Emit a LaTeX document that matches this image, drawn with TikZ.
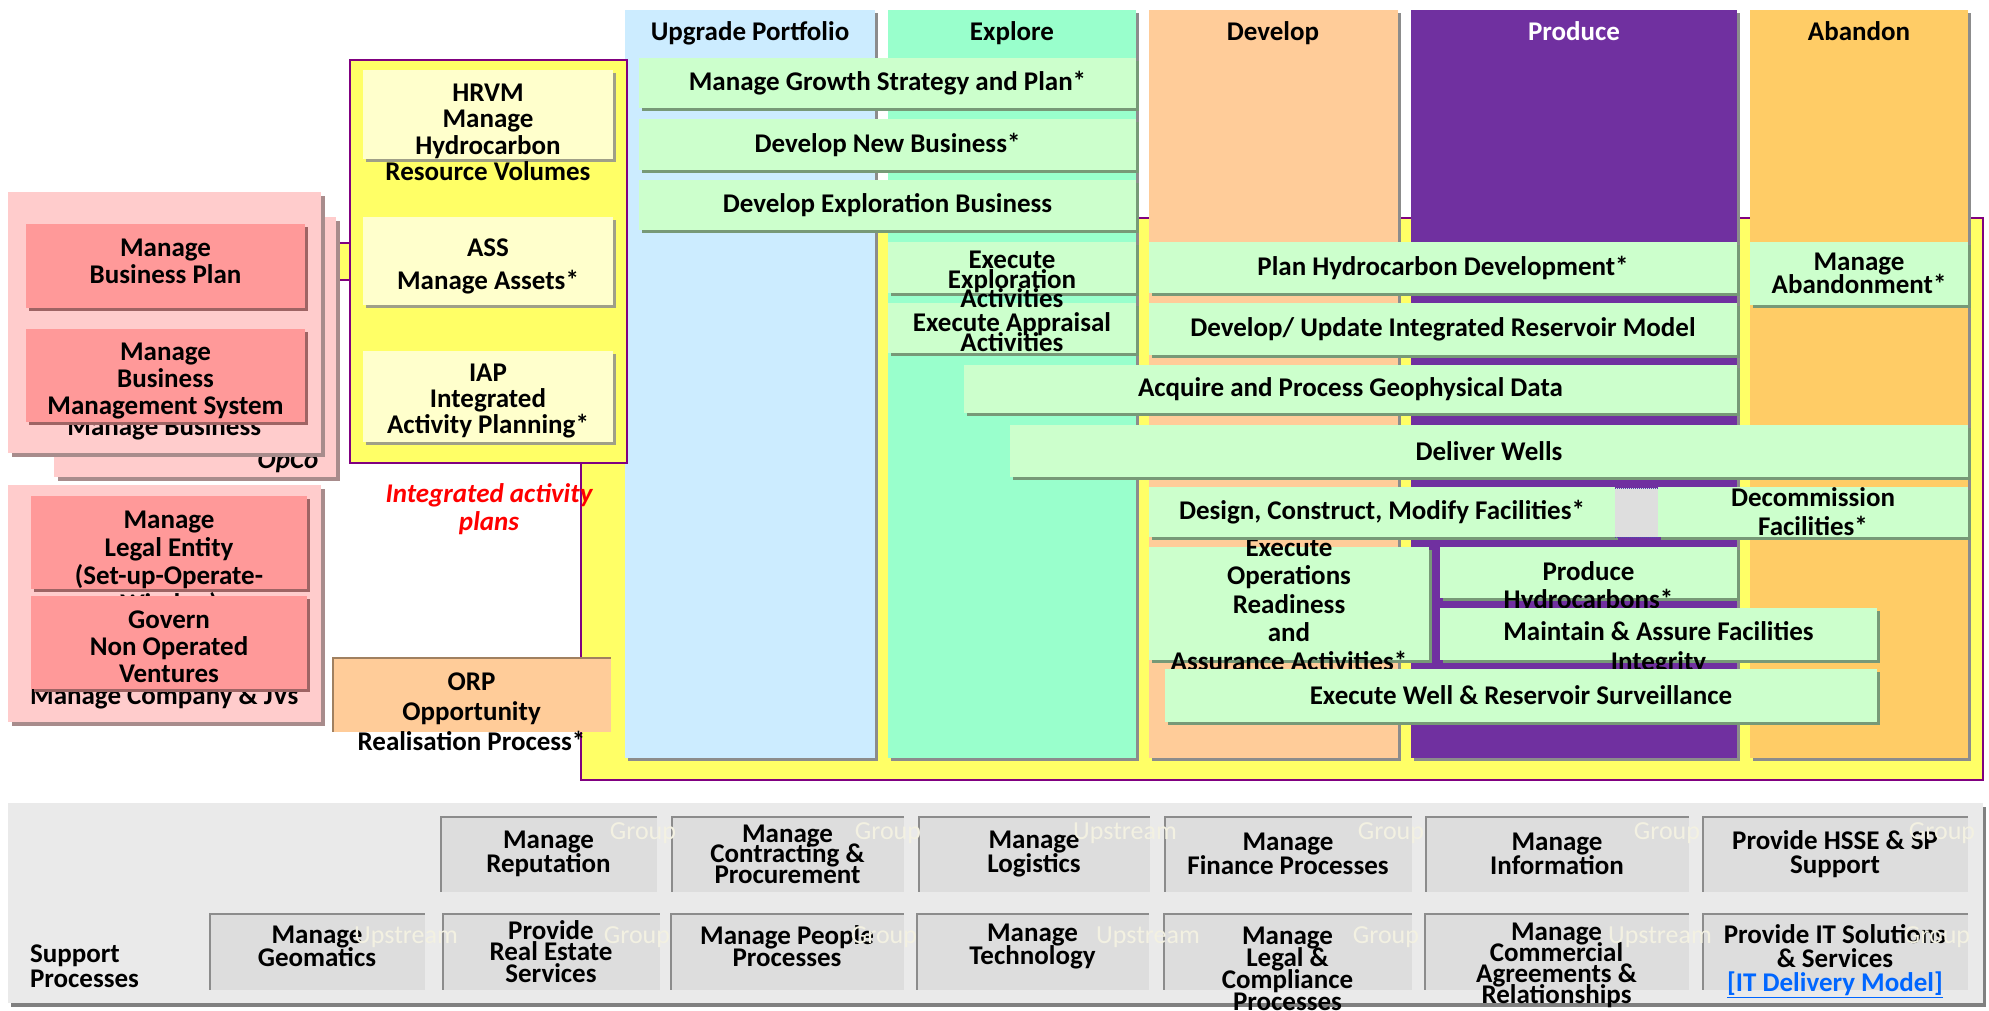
\documentclass[tikz,border=0pt]{standalone}
\usepackage{fontspec}
\setmainfont{Carlito}
\usetikzlibrary{shadows}
\lineskiplimit=-100pt

\definecolor{bla}{HTML}{CCECFF}
\definecolor{mint}{HTML}{99FFCC}
\definecolor{fersken}{HTML}{FFCC99}
\definecolor{lilla}{HTML}{7030A0}
\definecolor{oransje}{HTML}{FFCC66}
\definecolor{gul}{HTML}{FFFF66}
\definecolor{kantlilla}{HTML}{800080}
\definecolor{lysgul}{HTML}{FFFFCC}
\definecolor{rosa}{HTML}{FFCCCC}
\definecolor{rod}{HTML}{FF9999}
\definecolor{gronn}{HTML}{CCFFCC}
\definecolor{gronnskygge}{HTML}{779977}
\definecolor{rodskygge}{HTML}{9E6464}
\definecolor{rosaskygge}{HTML}{A88C8C}
\definecolor{gulskygge}{HTML}{A0A088}
\definecolor{brun}{HTML}{A08060}
\definecolor{panel}{HTML}{EAEAEA}
\definecolor{stotte}{HTML}{DDDDDD}
\definecolor{lenke}{HTML}{0066FF}
\definecolor{vann}{HTML}{F3F1E2}

\begin{document}
\begin{tikzpicture}[
  x=1pt, y=-1pt,
  every node/.style={inner sep=0pt, outer sep=0pt}
]
\tikzstyle{tekst}=[align=center, font=\bfseries\fontsize{27}{27}\selectfont]
\tikzstyle{boks}=[tekst, anchor=north west]
\tikzstyle{fase}=[boks, drop shadow={shadow xshift=3pt, shadow yshift=-3pt, opacity=1, fill=black!45}]
\tikzstyle{flate}=[boks, fill=gul, draw=kantlilla, line width=2pt]
\tikzstyle{gronnboks}=[boks, fill=gronn, drop shadow={shadow xshift=3pt, shadow yshift=-3pt, opacity=1, fill=gronnskygge}]
\tikzstyle{gulboks}=[boks, fill=lysgul, drop shadow={shadow xshift=3pt, shadow yshift=-3pt, opacity=1, fill=gulskygge}]
\tikzstyle{rosaboks}=[boks, fill=rosa, drop shadow={shadow xshift=4pt, shadow yshift=-4pt, opacity=1, fill=rosaskygge}]
\tikzstyle{rodboks}=[boks, fill=rod, drop shadow={shadow xshift=3pt, shadow yshift=-3pt, opacity=1, fill=rodskygge}]
\tikzstyle{orpboks}=[boks, fill=fersken, path picture={\draw[brun, line width=4pt] (path picture bounding box.south west) -- (path picture bounding box.north west) -- (path picture bounding box.north east);}]
\tikzstyle{stotteboks}=[boks, fill=stotte, minimum height=76pt, font=\bfseries\fontsize{27}{24}\selectfont, path picture={\draw[black!45, line width=4pt] (path picture bounding box.south west) -- (path picture bounding box.north west) -- (path picture bounding box.north east);}]
\tikzstyle{vannmerke}=[text=vann, font=\fontsize{26}{27}\selectfont]

\path[use as bounding box, fill=white] (0,0) rectangle (1989,1010);

\node[flate, minimum width=1402pt, minimum height=562pt] (omrade) at (581,218) {};
\coordinate (k1) at (330,261.5);
\coordinate (k2) at (354,261.5);
\draw[kantlilla, line width=2pt, double=gul, double distance=35pt] (k1) -- (k2);

\node[fase, fill=bla, minimum width=250pt, minimum height=748pt] (upg) at (625,10) {};
\node[fase, fill=mint, minimum width=248pt, minimum height=748pt] (expl) at (888,10) {};
\node[fase, fill=fersken, minimum width=249pt, minimum height=748pt] (dev) at (1149,10) {};
\node[fase, fill=lilla, minimum width=326pt, minimum height=748pt] (prod) at (1411,10) {};
\node[fase, fill=oransje, minimum width=218pt, minimum height=748pt] (aban) at (1750,10) {};
\node[tekst, anchor=base] (hupg) at (750,40) {Upgrade Portfolio};
\node[tekst, anchor=base] (hexpl) at (1012,40) {Explore};
\node[tekst, anchor=base] (hdev) at (1273,40) {Develop};
\node[tekst, anchor=base, text=white] (hprod) at (1574,40) {Produce};
\node[tekst, anchor=base] (haban) at (1859,40) {Abandon};

\node[flate, minimum width=277pt, minimum height=403pt] (iapflate) at (350,60) {};
\node[gulboks, minimum width=250pt, minimum height=89pt,
  label={[tekst, font=\bfseries\fontsize{27}{26.5}\selectfont, yshift=-18pt]center:HRVM\\Manage\\Hydrocarbon\\Resource Volumes}] (hrvm) at (363,70) {};
\node[gulboks, minimum width=250pt, minimum height=88pt,
  label={[tekst, font=\bfseries\fontsize{27}{33}\selectfont, yshift=-5pt]center:ASS\\Manage Assets*}] (ass) at (363,217) {};
\node[gulboks, minimum width=250pt, minimum height=91pt,
  label={[tekst, font=\bfseries\fontsize{27}{26}\selectfont, yshift=-5pt]center:IAP\\Integrated\\Activity Planning*}] (iap) at (363,351) {};

\node[rosaboks, minimum width=282pt, minimum height=260pt,
  label={[tekst, font=\bfseries\itshape\fontsize{27}{27}\selectfont, xshift=93pt, yshift=-115pt]center:OpCo}] (opco) at (54,217) {};
\node[rosaboks, minimum width=313.5pt, minimum height=261pt,
  label={[tekst, yshift=-105.5pt]center:Manage Business}] (mbytre) at (7.5,192) {};
\node[rodboks, minimum width=279pt, minimum height=84pt,
  label={[tekst, yshift=5pt]center:Manage\\Business Plan}] (mbp) at (26,224) {};
\node[rodboks, minimum width=279pt, minimum height=93pt,
  label={[tekst, yshift=-6pt]center:Manage\\Business\\Management System}] (mbms) at (26,329) {};

\node[rosaboks, minimum width=313.5pt, minimum height=237pt,
  label={[tekst, yshift=-93.5pt]center:Manage Company \& JVs}] (mcytre) at (7.5,485) {};
\node[rodboks, minimum width=276pt, minimum height=93pt,
  label={[tekst, font=\bfseries\fontsize{27}{28}\selectfont, yshift=-21pt]center:Manage\\Legal Entity\\(Set-up-Operate-\\Windup)}] (mle) at (31,496) {};
\node[rodboks, minimum width=276pt, minimum height=93pt,
  label={[tekst, yshift=-4pt]center:Govern\\Non Operated\\Ventures}] (gnov) at (31,596) {};

\node[tekst, text=red, font=\bfseries\itshape\fontsize{27}{28}\selectfont] (plans) at (489,509) {Integrated activity\\plans};

\node[orpboks, minimum width=279pt, minimum height=75pt,
  label={[tekst, font=\bfseries\fontsize{27}{30}\selectfont, yshift=-17.5pt]center:ORP\\Opportunity\\Realisation Process*}] (orp) at (332,657) {};

\node[gronnboks, minimum width=497pt, minimum height=50pt] (mgsp) at (639,58) {Manage Growth Strategy and Plan*};
\node[gronnboks, minimum width=497pt, minimum height=51pt] (dnb) at (639,119) {Develop New Business*};
\node[gronnboks, minimum width=497pt, minimum height=50pt] (deb) at (639,180) {Develop Exploration Business};
\node[gronnboks, minimum width=248pt, minimum height=50pt,
  label={[tekst, font=\bfseries\fontsize{27}{19.5}\selectfont, yshift=-4pt]center:Execute Appraisal\\Activities}] (eaa) at (888,303) {};
\node[gronnboks, minimum width=248pt, minimum height=51pt,
  label={[tekst, font=\bfseries\fontsize{27}{19.5}\selectfont, yshift=-12pt]center:Execute\\Exploration\\Activities}] (eea) at (888,242) {};
\node[gronnboks, minimum width=588pt, minimum height=51pt] (phd) at (1149,242) {Plan Hydrocarbon Development*};
\node[gronnboks, minimum width=588pt, minimum height=52pt] (dirm) at (1149,303) {Develop/ Update Integrated Reservoir Model};
\node[gronnboks, minimum width=218pt, minimum height=63pt, font=\bfseries\fontsize{27}{23}\selectfont] (ma) at (1750,242) {Manage\\Abandonment*};
\node[gronnboks, minimum width=773pt, minimum height=48pt] (apgd) at (964,365) {Acquire and Process Geophysical Data};
\node[gronnboks, minimum width=958pt, minimum height=52pt] (dw) at (1010,425) {Deliver Wells};
\node[gronnboks, minimum width=280pt, minimum height=113pt,
  label={[tekst, font=\bfseries\fontsize{27}{28.5}\selectfont, yshift=-1pt]center:Execute\\Operations\\Readiness\\and\\Assurance Activities*}] (eora) at (1149,547) {};
\node[gronnboks, minimum width=466pt, minimum height=50pt] (dcmf) at (1149,487) {Design, Construct, Modify Facilities*};
\node[boks, fill=black!13, minimum width=43pt, minimum height=49pt] (fyll) at (1615,488) {};
\draw[densely dotted, blue!40!gray, line width=1pt] (fyll.north west) -- (fyll.north east) (fyll.south west) -- (fyll.south east);
\node[gronnboks, minimum width=310pt, minimum height=50pt, font=\bfseries\fontsize{27}{29}\selectfont] (df) at (1658,487) {Decommission\\Facilities*};
\node[gronnboks, minimum width=297pt, minimum height=51pt,
  label={[tekst, font=\bfseries\fontsize{27}{28}\selectfont, yshift=-14.5pt]center:Produce\\Hydrocarbons*}] (ph) at (1440,547) {};
\node[gronnboks, minimum width=437pt, minimum height=52pt,
  label={[tekst, font=\bfseries\fontsize{27}{30}\selectfont, yshift=-14pt]center:Maintain \& Assure Facilities\\Integrity}] (mafi) at (1440,608) {};
\node[gronnboks, minimum width=712pt, minimum height=53pt] (ewrs) at (1165,669) {Execute Well \& Reservoir Surveillance};

\node[boks, fill=panel, drop shadow={shadow xshift=3pt, shadow yshift=-4pt, opacity=1, fill=black!50}, minimum width=1975pt, minimum height=200pt] (panel) at (8,803) {};
\node[tekst, anchor=west, align=left, font=\bfseries\fontsize{27}{25}\selectfont] (sp) at (30,966) {Support\\Processes};

\node[stotteboks, minimum width=217pt] (srep) at (440,816) {Manage\\Reputation};
\node[stotteboks, minimum width=233pt, font=\bfseries\fontsize{27}{20.5}\selectfont] (skon) at (671,816) {Manage\\Contracting \&\\Procurement};
\node[stotteboks, minimum width=232pt] (slog) at (918,816) {Manage\\Logistics};
\node[stotteboks, minimum width=248pt] (sfin) at (1164,816) {Manage\\Finance Processes};
\node[stotteboks, minimum width=264pt] (sinf) at (1425,816) {Manage\\Information};
\node[stotteboks, minimum width=266pt] (shms) at (1702,816) {Provide HSSE \& SP\\Support};

\node[stotteboks, minimum width=216pt, minimum height=77pt,
  label={[tekst, font=\bfseries\fontsize{27}{23}\selectfont, yshift=5pt]center:Manage\\Geomatics}] (sgeo) at (209,913) {};
\node[stotteboks, minimum width=218pt, minimum height=77pt, font=\bfseries\fontsize{27}{21.5}\selectfont] (seie) at (442,913) {Provide\\Real Estate\\Services};
\node[stotteboks, minimum width=234pt, minimum height=77pt,
  label={[tekst, font=\bfseries\fontsize{27}{22}\selectfont, yshift=5pt]center:Manage People\\Processes}] (sfolk) at (670,913) {};
\node[stotteboks, minimum width=233pt, minimum height=77pt,
  label={[tekst, font=\bfseries\fontsize{27}{23}\selectfont, yshift=5pt]center:Manage\\Technology}] (stek) at (916,913) {};
\node[stotteboks, minimum width=249pt, minimum height=77pt,
  label={[tekst, font=\bfseries\fontsize{27}{22}\selectfont, yshift=-17pt]center:Manage\\Legal \&\\Compliance\\Processes}] (sjur) at (1163,913) {};
\node[stotteboks, minimum width=265pt, minimum height=77pt,
  label={[tekst, font=\bfseries\fontsize{27}{21}\selectfont, yshift=-13.5pt]center:Manage\\Commercial\\Agreements \&\\Relationships}] (skom) at (1424,913) {};
\node[stotteboks, minimum width=266pt, minimum height=77pt,
  label={[tekst, font=\bfseries\fontsize{27}{24}\selectfont, yshift=-9.5pt]center:Provide IT Solutions\\\& Services\\\textcolor{lenke}{\underline{[IT Delivery Model]}}}] (sit) at (1702,913) {};

\foreach \x/\y/\t [count=\i] in {643/833/Group, 888/833/Group, 1125/833/Upstream, 1391/833/Group, 1667/833/Group, 1942/833/Group,
  406/937/Upstream, 637/937/Group, 884/937/Group, 1148/937/Upstream, 1386/937/Group, 1660/937/Upstream, 1937/937/Group}
  \node[vannmerke] (v\i) at (\x,\y) {\t};
\end{tikzpicture}
\end{document}
